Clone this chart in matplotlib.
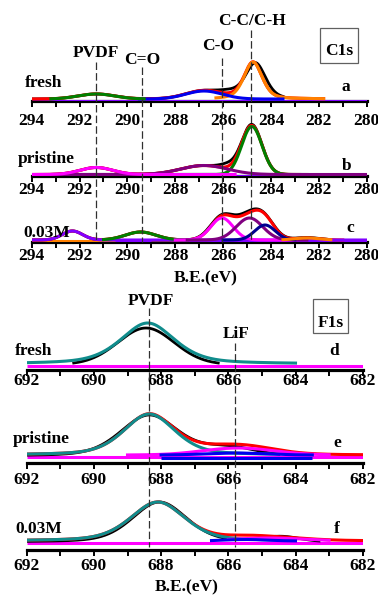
import numpy as np
import matplotlib
matplotlib.use("Agg")
import matplotlib.pyplot as plt
from matplotlib.ticker import MultipleLocator

plt.rcParams['font.family'] = ['Liberation Serif', 'DejaVu Serif']
plt.rcParams['font.weight'] = 'bold'

W, H = 378, 598

# ---------------- data ----------------
c1s_ticks = [294, 292, 290, 288, 286, 284, 282, 280]
f1s_ticks = [692, 690, 688, 686, 684, 682]

c1s_refs = [291.3, 289.4, 286.05, 284.85]
c1s_ref_names = ['PVDF', 'C=O', 'C-O', 'C-C/C-H']
f1s_refs = [688.35, 685.8]
f1s_ref_names = ['PVDF', 'LiF']

samples = ['fresh', 'pristine', '0.03M']
c1s_letters = ['a', 'b', 'c']
f1s_letters = ['d', 'e', 'f']

# peaks: (centre eV, height a.u., FWHM eV, Lorentzian fraction)
# spans: (start eV, end eV) over which each trace is drawn

# --- C1s, fresh ---
c1s_fresh_raw = [(284.65, 36, 1.0, 0.35), (285.7, 4, 1.0, 0.0),
                 (286.8, 8, 1.8, 0.0), (291.3, 5, 1.8, 0.0)]
c1s_fresh_raw_bg = 2
c1s_fresh_raw_span = (294, 283.5)
c1s_fresh_fit = [(284.75, 37, 0.9, 0.4), (286.8, 8, 1.8, 0.0), (291.3, 5, 1.8, 0.0)]
c1s_fresh_fit_span = [(286.3, 281.8), (289.5, 283.5), (293.2, 289.3)]
c1s_fresh_bg = 2
c1s_fresh_env_span = (294, 281.8)
c1s_fresh_base = [(0, 294, 280)]

# --- C1s, pristine ---
c1s_pristine_raw = [(284.8, 49, 1.0, 0.0), (285.8, 4, 0.8, 0.0),
                    (286.8, 9, 2.3, 0.0), (291.3, 7, 1.6, 0.0)]
c1s_pristine_raw_bg = 1.5
c1s_pristine_raw_span = (294, 282.8)
c1s_pristine_fit = [(284.8, 48, 1.0, 0.0), (286.8, 9, 2.3, 0.0), (291.3, 7, 1.6, 0.0)]
c1s_pristine_fit_span = [(288.5, 282.5), (294, 280), (294, 285.5)]
c1s_pristine_bg = 1.5
c1s_pristine_env_span = (294, 282.8)
c1s_pristine_base = [(0, 294, 280), (0.7, 294, 285.5)]

# --- C1s, 0.03M ---
c1s_003_raw = [(292.3, 9, 1.0, 0.0), (289.45, 8, 1.5, 0.0), (286.05, 23, 1.15, 0.0),
               (284.9, 23, 1.3, 0.0), (284.25, 15, 1.05, 0.0), (282.5, 2.5, 1.2, 0.0)]
c1s_003_raw_bg = 2
c1s_003_raw_span = (294, 281.5)
c1s_003_fit = [(292.3, 9, 1.0, 0.0), (289.45, 8, 1.5, 0.0), (286.05, 22, 1.1, 0.0),
               (284.9, 22, 1.3, 0.0), (284.25, 15, 1.0, 0.0), (282.5, 2, 1.2, 0.0)]
c1s_003_fit_span = [(294, 280), (291, 287.5), (288, 283), (287.5, 282.5),
                    (286, 283), (283.5, 281.5)]
c1s_003_bg = 2
c1s_003_env_span = (294, 281)
c1s_003_base = [(0, 294, 280), (1, 294, 290.5), (1, 289, 287.7)]

# --- F1s, fresh ---
f1s_fresh_raw = [(688.45, 37, 2.0, 0.1)]
f1s_fresh_raw_bg = 5
f1s_fresh_raw_span = (690.6, 686.3)
f1s_fresh_fit = [(688.4, 41, 1.9, 0.5)]
f1s_fresh_fit_span = [(692, 684)]
f1s_fresh_bg = 6
f1s_fresh_env_span = None
f1s_fresh_base = [(4, 692, 682)]

# --- F1s, pristine ---
f1s_pristine_raw = [(688.35, 41, 2.0, 0.3), (686.0, 8, 1.8, 0.0)]
f1s_pristine_raw_bg = 7
f1s_pristine_raw_span = (692, 684.5)
f1s_pristine_fit = [(688.35, 41, 1.8, 0.4), (685.7, 7, 2.5, 0.0), (685.8, 2, 2.0, 0.0)]
f1s_pristine_fit_span = [(692, 684.5), (689, 683), (688, 683.5)]
f1s_pristine_bg = 8
f1s_pristine_env_span = (692, 682)
f1s_pristine_base = [(6.3, 692, 682), (5, 688, 683.5)]

# --- F1s, 0.03M ---
f1s_003_raw = [(688.05, 40, 1.9, 0.3), (684.45, 5, 1.3, 0.0)]
f1s_003_raw_bg = 8
f1s_003_raw_span = (692, 683.3)
f1s_003_fit = [(688.1, 39, 1.9, 0.4), (684.8, 3, 2.5, 0.0), (685.5, 1.5, 1.5, 0.0)]
f1s_003_fit_span = [(692, 684.5), (686, 683), (686.5, 684)]
f1s_003_bg = 9
f1s_003_env_span = (692, 682)
f1s_003_base = [(6.7, 692, 682)]

# ---------------- styles ----------------
VIOLET, PURPLE, MAGENTA = '#8000ff', '#800080', '#ff00ff'
ORANGE, GREEN, BLUE, NAVY = '#ff8000', '#008000', '#0000ee', '#000090'
TEAL, BROWN = '#108c8c', '#804000'

c1s_fresh_colors = [ORANGE, BLUE, GREEN]
c1s_fresh_base_colors = [VIOLET]
c1s_pristine_colors = [GREEN, PURPLE, MAGENTA]
c1s_pristine_base_colors = [VIOLET, MAGENTA]
c1s_003_colors = [VIOLET, GREEN, MAGENTA, PURPLE, NAVY, ORANGE]
c1s_003_base_colors = [VIOLET, ORANGE, BROWN]
f1s_fresh_colors = [TEAL]
f1s_fresh_base_colors = [MAGENTA]
f1s_pristine_colors = [TEAL, MAGENTA, BLUE]
f1s_pristine_base_colors = [MAGENTA, BLUE]
f1s_003_colors = [TEAL, MAGENTA, BLUE]
f1s_003_base_colors = [MAGENTA]


def pseudo_voigt(x, centre, height, fwhm, eta):
    sigma = fwhm / 2.3548
    gauss = np.exp(-0.5 * ((x - centre) / sigma) ** 2)
    lorentz = 1.0 / (1.0 + ((x - centre) / (fwhm / 2)) ** 2)
    return height * ((1 - eta) * gauss + eta * lorentz)


def grid(span):
    return np.linspace(span[0], span[1], 400)


def fig_rect(x0, x1, y_top, y_bottom):
    return [x0 / W, 1 - y_bottom / H, (x1 - x0) / W, (y_bottom - y_top) / H]


def ptext(x, y, s, **kw):
    fig.text(x / W, 1 - y / H, s, fontsize=12.5, fontweight='bold', **kw)


fig = plt.figure(figsize=(W / 100, H / 100), dpi=100)

C1S_X = (31.7, 366.7)
F1S_X = (26.7, 362.7)

panels = [
    # x px, spine y px, top y px, xlim, ticks, label pad, raw, raw_bg, raw_span,
    # fit, fit_span, bg, env_span, base, colours, base colours
    (C1S_X, 101, 20, (294, 280), c1s_ticks, 4.1, c1s_fresh_raw, c1s_fresh_raw_bg,
     c1s_fresh_raw_span, c1s_fresh_fit, c1s_fresh_fit_span, c1s_fresh_bg,
     c1s_fresh_env_span, c1s_fresh_base, c1s_fresh_colors, c1s_fresh_base_colors),
    (C1S_X, 176, 110, (294, 280), c1s_ticks, -0.4, c1s_pristine_raw, c1s_pristine_raw_bg,
     c1s_pristine_raw_span, c1s_pristine_fit, c1s_pristine_fit_span, c1s_pristine_bg,
     c1s_pristine_env_span, c1s_pristine_base, c1s_pristine_colors,
     c1s_pristine_base_colors),
    (C1S_X, 242, 195, (294, 280), c1s_ticks, -0.2, c1s_003_raw, c1s_003_raw_bg,
     c1s_003_raw_span, c1s_003_fit, c1s_003_fit_span, c1s_003_bg,
     c1s_003_env_span, c1s_003_base, c1s_003_colors, c1s_003_base_colors),
    (F1S_X, 370, 300, (692, 682), f1s_ticks, -2.3, f1s_fresh_raw, f1s_fresh_raw_bg,
     f1s_fresh_raw_span, f1s_fresh_fit, f1s_fresh_fit_span, f1s_fresh_bg,
     f1s_fresh_env_span, f1s_fresh_base, f1s_fresh_colors, f1s_fresh_base_colors),
    (F1S_X, 463, 395, (692, 682), f1s_ticks, 1.75, f1s_pristine_raw, f1s_pristine_raw_bg,
     f1s_pristine_raw_span, f1s_pristine_fit, f1s_pristine_fit_span, f1s_pristine_bg,
     f1s_pristine_env_span, f1s_pristine_base, f1s_pristine_colors,
     f1s_pristine_base_colors),
    (F1S_X, 550, 490, (692, 682), f1s_ticks, 1.3, f1s_003_raw, f1s_003_raw_bg,
     f1s_003_raw_span, f1s_003_fit, f1s_003_fit_span, f1s_003_bg,
     f1s_003_env_span, f1s_003_base, f1s_003_colors, f1s_003_base_colors),
]

for (xpx, ybot, ytop, xlim, ticks, pad, raw, raw_bg, raw_span, fit, fit_span, bg,
     env_span, base, colors, base_colors) in panels:
    ax = fig.add_axes(fig_rect(xpx[0], xpx[1], ytop, ybot))
    ax.set_facecolor('none')
    ax.set_xlim(*xlim)
    ax.set_ylim(0, ybot - ytop)
    for side in ('left', 'right', 'top'):
        ax.spines[side].set_visible(False)
    ax.spines['bottom'].set_linewidth(2.3)
    ax.spines['bottom'].set_zorder(1)
    ax.set_yticks([])
    ax.set_xticks(ticks)
    ax.xaxis.set_minor_locator(MultipleLocator(1))
    ax.tick_params(axis='x', which='both', direction='out', length=4.5, width=1.4,
                   pad=pad, labelsize=12.5)
    for lab in ax.get_xticklabels():
        lab.set_fontweight('bold')

    # baselines
    for (lvl, x0, x1), col in zip(base, base_colors):
        ax.plot([x0, x1], [lvl, lvl], color=col, lw=2.2, zorder=2, solid_capstyle='butt')

    # measured spectrum
    xr = grid(raw_span)
    yr = raw_bg + sum(pseudo_voigt(xr, *p) for p in raw)
    ax.plot(xr, yr, color='black', lw=2.0, zorder=3)

    # fit envelope
    if env_span is not None:
        xe = grid(env_span)
        ye = bg + sum(pseudo_voigt(xe, *p) for p in fit)
        ax.plot(xe, ye, color='#ff0000', lw=2.2, zorder=4)

    # fitted components
    for p, span, col in zip(fit, fit_span, colors):
        xc = grid(span)
        ax.plot(xc, bg + pseudo_voigt(xc, *p), color=col, lw=2.2, zorder=5)

# reference lines across each group
dash = dict(color='#303030', lw=0.9, linestyle=(0, (6, 2.5)), zorder=10)
ov1 = fig.add_axes(fig_rect(C1S_X[0], C1S_X[1], 0, H))
ov1.set_xlim(294, 280)
ov1.set_ylim(H, 0)
ov1.axis('off')
ov1.set_facecolor('none')
for e, top in zip(c1s_refs, [61.7, 66.7, 58.3, 30]):
    ov1.plot([e, e], [top, 242], **dash)

ov2 = fig.add_axes(fig_rect(F1S_X[0], F1S_X[1], 0, H))
ov2.set_xlim(692, 682)
ov2.set_ylim(H, 0)
ov2.axis('off')
ov2.set_facecolor('none')
for e, top in zip(f1s_refs, [308, 343]):
    ov2.plot([e, e], [top, 547], **dash)

# reference names
for name, (x, y) in zip(c1s_ref_names, [(95.8, 56.7), (142.5, 64), (218, 50), (251.7, 25)]):
    ptext(x, y, name, ha='center', va='baseline')
for name, (x, y) in zip(f1s_ref_names, [(150.8, 305), (236.3, 338.3)]):
    ptext(x, y, name, ha='center', va='baseline')

# sample names and panel letters
for s, (x, y) in zip(samples, [(25, 87.3), (18, 162.7), (23, 236.7)]):
    ptext(x, y, s, ha='left', va='baseline')
for s, (x, y) in zip(samples, [(15, 355), (13, 443), (15, 533)]):
    ptext(x, y, s, ha='left', va='baseline')
for s, (x, y) in zip(c1s_letters, [(345.5, 90.7), (347, 170), (350, 231.7)]):
    ptext(x, y, s, ha='center', va='baseline')
for s, (x, y) in zip(f1s_letters, [(334, 355), (337.5, 447), (337, 533)]):
    ptext(x, y, s, ha='center', va='baseline')

# core-level boxes
for s, (x0, y0, x1, y1), yb in [('C1s', (320, 28.3, 358, 63.3), 55),
                                 ('F1s', (313, 299.3, 348, 333.3), 326.7)]:
    fig.patches.append(plt.Rectangle((x0 / W, 1 - y1 / H), (x1 - x0) / W, (y1 - y0) / H,
                                     transform=fig.transFigure, fill=False,
                                     edgecolor='#606060', lw=0.9))
    ptext((x0 + x1) / 2, yb, s, ha='center', va='baseline')

# axis titles
ptext(205.7, 282.7, 'B.E.(eV)', ha='center', va='baseline')
ptext(186.7, 591.7, 'B.E.(eV)', ha='center', va='baseline')

fig.savefig('out.png', dpi=100)
